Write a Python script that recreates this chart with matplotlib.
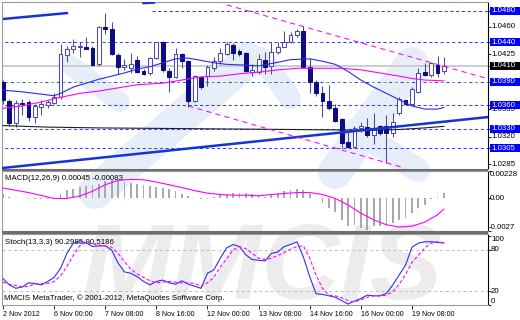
import numpy as np
import matplotlib
matplotlib.use("Agg")
import matplotlib.pyplot as plt
from matplotlib.patches import Rectangle
from matplotlib.transforms import blended_transform_factory

plt.rcParams['font.family'] = ['Liberation Sans', 'DejaVu Sans']
FS = 5.7

# H4 bars, 2 Nov 2012 .. 20 Nov 2012
opens = [1.0389, 1.0365, 1.0337, 1.0363, 1.0364, 1.0345, 1.0358, 1.0360, 1.0363, 1.0370,
         1.0424, 1.0432, 1.0434, 1.0434, 1.0433, 1.0412, 1.0459, 1.0457, 1.0424, 1.0408,
         1.0407, 1.0418, 1.0403, 1.0401, 1.0420, 1.0440, 1.0404, 1.0396, 1.0425, 1.0416,
         1.0365, 1.0396, 1.0397, 1.0407, 1.0416, 1.0425, 1.0437, 1.0429, 1.0426, 1.0402,
         1.0402, 1.0418, 1.0410, 1.0428, 1.0434, 1.0441, 1.0449, 1.0454, 1.0409, 1.0390,
         1.0376, 1.0365, 1.0356, 1.0342, 1.0313, 1.0307, 1.0331, 1.0332, 1.0322, 1.0333,
         1.0333, 1.0324, 1.0350, 1.0366, 1.0361, 1.0377, 1.0402, 1.0398, 1.0411, 1.0404]
highs = [1.0392, 1.0368, 1.0367, 1.0368, 1.0367, 1.0361, 1.0367, 1.0366, 1.0376, 1.0438,
         1.0435, 1.0444, 1.0440, 1.0447, 1.0436, 1.0461, 1.0477, 1.0466, 1.0426, 1.0419,
         1.0427, 1.0423, 1.0406, 1.0421, 1.0441, 1.0442, 1.0407, 1.0433, 1.0426, 1.0418,
         1.0398, 1.0397, 1.0411, 1.0421, 1.0433, 1.0440, 1.0439, 1.0432, 1.0428, 1.0412,
         1.0425, 1.0428, 1.0440, 1.0440, 1.0455, 1.0453, 1.0457, 1.0461, 1.0420, 1.0392,
         1.0385, 1.0386, 1.0362, 1.0344, 1.0326, 1.0333, 1.0339, 1.0344, 1.0350, 1.0335,
         1.0347, 1.0350, 1.0371, 1.0367, 1.0383, 1.0407, 1.0414, 1.0415, 1.0423, 1.0422]
lows = [1.0362, 1.0333, 1.0332, 1.0347, 1.0340, 1.0337, 1.0348, 1.0356, 1.0362, 1.0368,
        1.0415, 1.0427, 1.0421, 1.0431, 1.0410, 1.0410, 1.0451, 1.0424, 1.0400, 1.0405,
        1.0401, 1.0401, 1.0398, 1.0399, 1.0419, 1.0402, 1.0377, 1.0394, 1.0407, 1.0358,
        1.0364, 1.0380, 1.0384, 1.0404, 1.0413, 1.0424, 1.0418, 1.0423, 1.0402, 1.0397,
        1.0400, 1.0400, 1.0400, 1.0425, 1.0434, 1.0439, 1.0447, 1.0407, 1.0375, 1.0372,
        1.0345, 1.0354, 1.0339, 1.0305, 1.0305, 1.0305, 1.0326, 1.0319, 1.0311, 1.0322,
        1.0286, 1.0319, 1.0347, 1.0360, 1.0359, 1.0375, 1.0397, 1.0396, 1.0396, 1.0400]
closes = [1.0367, 1.0337, 1.0363, 1.0361, 1.0345, 1.0359, 1.0362, 1.0364, 1.0370, 1.0425,
          1.0432, 1.0435, 1.0436, 1.0432, 1.0411, 1.0459, 1.0457, 1.0425, 1.0409, 1.0411,
          1.0413, 1.0402, 1.0400, 1.0420, 1.0440, 1.0405, 1.0396, 1.0425, 1.0416, 1.0365,
          1.0397, 1.0383, 1.0408, 1.0416, 1.0426, 1.0438, 1.0426, 1.0425, 1.0404, 1.0405,
          1.0419, 1.0409, 1.0428, 1.0434, 1.0441, 1.0449, 1.0455, 1.0409, 1.0390, 1.0376,
          1.0365, 1.0356, 1.0340, 1.0312, 1.0307, 1.0331, 1.0333, 1.0322, 1.0330, 1.0325,
          1.0324, 1.0338, 1.0368, 1.0361, 1.0380, 1.0401, 1.0398, 1.0414, 1.0401, 1.0410]

date_ticks = [0, 8, 16, 24, 32, 40, 48, 56, 64]
date_labels = ["2 Nov 2012", "6 Nov 00:00", "7 Nov 08:00", "8 Nov 16:00", "12 Nov 00:00",
               "13 Nov 08:00", "14 Nov 16:00", "16 Nov 00:00", "19 Nov 08:00"]

# moving averages (bar index, value)
ma_blue_bar = [0, 3, 6, 8, 9, 11, 13, 15, 17, 19, 21, 23, 25, 27, 29, 31, 33, 35, 38, 40,
               42, 45, 48, 50, 52, 54, 56, 58, 60, 62, 64, 66, 68, 69]
ma_blue_val = [1.0379, 1.0377, 1.0374, 1.0372, 1.0375, 1.0383, 1.0388, 1.0393, 1.0397, 1.0401,
               1.0406, 1.0409, 1.0414, 1.0419, 1.0420, 1.0417, 1.0414, 1.0412, 1.0411, 1.0410,
               1.0413, 1.0418, 1.0419, 1.0416, 1.0412, 1.0403, 1.0392, 1.0383, 1.0375, 1.0367,
               1.0359, 1.0355, 1.0355, 1.0357]
ma_pink_bar = [0, 3, 6, 9, 12, 15, 18, 21, 25, 28, 31, 34, 37, 40, 43, 46, 50, 53, 56, 59,
               62, 64, 66, 69]
ma_pink_val = [1.0356, 1.0359, 1.0364, 1.0370, 1.0375, 1.0378, 1.0382, 1.0386, 1.0388, 1.0392,
               1.0396, 1.0397, 1.0400, 1.0402, 1.0405, 1.0407, 1.0407, 1.0407, 1.0405, 1.0401,
               1.0397, 1.0394, 1.0392, 1.0391]
ma_black_bar = [0, 7, 15, 30, 45, 58, 62, 66, 69]
ma_black_val = [1.0334, 1.0332, 1.0331, 1.0330, 1.0329, 1.0328, 1.0329, 1.0331, 1.0333]

level_lines = [1.0480, 1.0440, 1.0390, 1.0360, 1.0330, 1.0305]
level_start = [23.3, -1, -1, -1, -1, -1]
current_price = 1.0410
plain_labels = [1.0460, 1.0425, 1.0355, 1.0320, 1.0285]

# drawn objects: (bar0, price0, bar1, price1)
trend_lines = [(-0.2, 1.02798, 76.0, 1.03449), (0, 1.04698, 10.2, 1.04775),
               (21.8, 1.04900, 23.8, 1.04908)]
channel_lines = [(35.05, 1.04877, 75.8, 1.03939), (29.0, 1.03589, 62.9, 1.02798)]

macd_hist = [0.00040, 0.00015, 0.00004, 0.00003, -0.00003, -0.00003, -0.00003, -0.00003, 0.00003, 0.00040,
             0.00068, 0.00082, 0.00095, 0.00103, 0.00109, 0.00122, 0.00141, 0.00150, 0.00141, 0.00136,
             0.00130, 0.00122, 0.00109, 0.00103, 0.00095, 0.00087, 0.00076, 0.00060, 0.00041, 0.00022,
             0.00008, -0.00002, -0.00002, 0.00013, 0.00033, 0.00041, 0.00049, 0.00049, 0.00049, 0.00041,
             0.00025, 0.00014, 0.00027, 0.00049, 0.00060, 0.00068, 0.00082, 0.00073, 0.00033, 0.00002,
             -0.00041, -0.00082, -0.00109, -0.00177, -0.00231, -0.00218, -0.00245, -0.00258, -0.00231, -0.00231,
             -0.00231, -0.00204, -0.00177, -0.00163, -0.00122, -0.00082, -0.00054, -0.00003, 0.00014, 0.00045]
macd_sig_bar = [0, 4, 8, 10, 12, 14, 16, 18, 20, 22, 24, 26, 28, 30, 32, 34, 36, 38, 40, 42,
                44, 46, 48, 50, 52, 54, 56, 58, 60, 62, 64, 66, 68, 69]
macd_sig_val = [0.00087, 0.00049, 0.0, 0.0, 0.0002, 0.0006, 0.00114, 0.0015, 0.00158, 0.00155,
                0.00136, 0.00114, 0.0009, 0.00065, 0.00044, 0.00033, 0.00027, 0.00027, 0.00022, 0.00033,
                0.00041, 0.00049, 0.00049, 0.00033, 0.0, -0.00054, -0.00122, -0.00177, -0.00218, -0.00237,
                -0.0023, -0.00196, -0.00136, -0.00088]

stoch_k = [38, 29, 24, 26, 32, 31, 29, 34, 40, 53,
           75, 90, 92, 91, 85, 86, 86, 80, 61, 48,
           46, 41, 34, 29, 34, 36, 32, 30, 35, 30,
           27, 24, 46, 51, 68, 83, 88, 85, 73, 66,
           65, 64, 75, 77, 85, 88, 92, 70, 41, 16,
           15, 13, 11, 6, 1, 5.5, 9, 14, 13, 13,
           16.5, 29, 43.5, 58, 84, 90, 92, 92, 91, 90.3]
stoch_d = [33, 30, 28, 26, 27, 30, 31, 31, 34, 42,
           56, 72, 86, 91, 89, 87, 86, 84, 75, 63,
           52, 45, 40, 35, 32, 33, 34, 33, 32, 32,
           31, 27, 32, 40, 55, 67, 80, 85, 82, 75,
           68, 66, 68, 72, 76, 81, 85, 86, 68, 43,
           24, 14, 13, 10, 6, 4, 7, 11, 13, 13,
           14, 19, 30, 44, 62, 72, 83, 90, 92, 90.5]

W, H = 520, 320
fig = plt.figure(figsize=(W / 100, H / 100), dpi=100, facecolor='white')

# watermark (logo stripes + letters) behind transparent panels
bg = fig.add_axes([0, 0, 1, 1])
bg.set_xlim(0, W)
bg.set_ylim(H, 0)
bg.axis('off')
bg.set_zorder(-5)
logo_bands = [((70, 65), (120, 102), 20), ((95, 192), (248, 60), 34), ((262, 58), (290, 98), 22),
              ((335, 172), (412, 64), 34), ((355, 130), (418, 170), 24)]
for (xa, ya), (xb, yb), w in logo_bands:
    bg.plot([xa, xb], [ya, yb], color='#e6eef9', lw=w * 0.72, solid_capstyle='round')
bg.text(262, 299, 'MMCIS', fontsize=78, fontweight='bold', style='italic', color='#ececec',
        ha='center', va='baseline', family='Liberation Sans')


def panel(x0, y0, x1, y1):
    a = fig.add_axes([x0 / W, 1 - y1 / H, (x1 - x0) / W, (y1 - y0) / H])
    a.set_facecolor('none')
    for s in ['left', 'top', 'bottom']:
        a.spines[s].set_color('#9a9a9a')
        a.spines[s].set_linewidth(0.8)
    a.spines['right'].set_color('black')
    a.spines['right'].set_linewidth(0.8)
    a.set_xlim(-0.156, 75.9)
    a.yaxis.tick_right()
    a.tick_params(axis='y', length=2.5, width=0.6, labelright=False, direction='out')
    a.set_xticks([])
    return a


x = np.arange(len(opens))
o, h, l, c = map(np.array, (opens, highs, lows, closes))

# ---------------- main price panel ----------------
ax = panel(2, 2, 488, 168.5)
ax.set_ylim(1.027927, 1.049147)

ax.axhline(current_price, color='#c8c8c8', lw=1.3, zorder=1)
for lv, st in zip(level_lines, level_start):
    if lv == 1.0390:
        ax.plot([st, 77], [lv, lv], color='#3c3cff', lw=0.75, linestyle=(0, (3, 8)), zorder=2)
        ax.plot([st, 77], [lv, lv], color='#6aae6a', lw=0.75, linestyle=(5.5, (3, 8)), zorder=2)
    else:
        ax.plot([st, 77], [lv, lv], color='#3c3cff', lw=0.75, linestyle=(0, (3, 2.5)), zorder=2)

up = c >= o
body_lo = np.minimum(o, c)
body_h = np.maximum(np.abs(c - o), 0.00005)
ax.vlines(x, l, h, color='#4a4a95', lw=0.75, zorder=4)
ax.bar(x[up], body_h[up], 0.6, body_lo[up], color='white', edgecolor='#4b4bb0', lw=0.75, zorder=5)
ax.bar(x[~up], body_h[~up], 0.6, body_lo[~up], color='#0c0c84', edgecolor='#0c0c84', lw=0.75, zorder=5)

ax.plot(ma_black_bar, ma_black_val, color='#202020', lw=0.8, zorder=6)
ax.plot(ma_pink_bar, ma_pink_val, color='#ff00ff', lw=0.8, zorder=6)
ax.plot(ma_blue_bar, ma_blue_val, color='#2b2bf0', lw=0.8, zorder=6)
for b0, p0, b1, p1 in trend_lines:
    ax.plot([b0, b1], [p0, p1], color='#1533d6', lw=1.8, solid_capstyle='butt', zorder=7)
for b0, p0, b1, p1 in channel_lines:
    ax.plot([b0, b1], [p0, p1], color='#ff00ff', lw=0.75, linestyle=(0, (5, 4)), zorder=7)

ax.set_yticks(level_lines + [current_price] + plain_labels)
tr = blended_transform_factory(ax.transAxes, ax.transData)
bx, bw, bh = 488 / 486, 31 / 486, 8 * 0.00012745
for lv in plain_labels:
    ax.text(489 / 486, lv, f'{lv:.4f}', transform=tr, fontsize=FS, va='center', ha='left',
            color='black', zorder=9)
for lv, fc in [(v, '#0000ff') for v in level_lines] + [(current_price, 'black')]:
    ax.add_patch(Rectangle((bx, lv - bh / 2), bw, bh, transform=tr, fc=fc, ec='none',
                           clip_on=False, zorder=10))
    ax.text(489.5 / 486, lv, f'{lv:.4f}', transform=tr, fontsize=FS, va='center', ha='left',
            color='white', zorder=11)

# ---------------- MACD panel ----------------
ax2 = panel(2, 171, 488, 231)
ax2.set_ylim(-0.0027, 0.00228)
ax2.bar(x, macd_hist, width=0.28, color='#a9a9a9', zorder=3)
ax2.plot(macd_sig_bar, macd_sig_val, color='#ff00ff', lw=0.8, zorder=4)
ax2.set_yticks([0.00228, 0.0, -0.0027])
tr2 = blended_transform_factory(ax2.transAxes, ax2.transData)
ax2.text(1.004, 0.00228, '0.00228', transform=tr2, fontsize=FS, va='top', ha='left')
ax2.text(1.004, 0.0, '0.00', transform=tr2, fontsize=FS, va='center', ha='left')
ax2.text(1.002, -0.0027, '-0.0027', transform=tr2, fontsize=FS, va='bottom', ha='left')
ax2.text(0.006, 0.88, 'MACD(12,26,9) 0.00045 -0.00083', transform=ax2.transAxes, fontsize=FS,
         va='center', ha='left')

# ---------------- Stochastic panel ----------------
ax3 = panel(2, 233.5, 488, 305)
ax3.set_ylim(-0.4, 104.1)
for lv in (80, 20):
    ax3.axhline(lv, color='#bdbdbd', lw=0.7, linestyle=(0, (3, 3)), zorder=2)
ax3.plot(x, stoch_k, color='#3030f0', lw=0.8, zorder=4)
ax3.plot(x, stoch_d, color='#ff00ff', lw=0.8, linestyle=(0, (3, 2)), zorder=4)
ax3.set_yticks([100, 80, 20, 0])
tr3 = blended_transform_factory(ax3.transAxes, ax3.transData)
ax3.text(1.006, 100, '100', transform=tr3, fontsize=FS, va='top', ha='left')
ax3.text(1.006, 80, '80', transform=tr3, fontsize=FS, va='center', ha='left')
ax3.text(1.006, 20, '20', transform=tr3, fontsize=FS, va='center', ha='left')
ax3.text(1.006, 0, '0', transform=tr3, fontsize=FS, va='bottom', ha='left')
ax3.text(0.006, 0.87, 'Stoch(13,3,3) 90.2985 90.5186', transform=ax3.transAxes, fontsize=FS,
         va='center', ha='left')
ax3.text(0.004, 0.09, 'MMCIS MetaTrader, \u00a9 2001-2012, MetaQuotes Software Corp.',
         transform=ax3.transAxes, fontsize=FS, va='center', ha='left')
ax3.set_xticks(date_ticks)
ax3.set_xticklabels(date_labels, fontsize=5.1, ha='left')
ax3.tick_params(axis='x', length=3, width=0.6, pad=1.5, direction='out')

# panel separators
for y0, y1 in [(168.5, 171), (231, 233.5)]:
    fig.add_artist(Rectangle((2 / W, 1 - y1 / H), 486 / W, (y1 - y0) / H, transform=fig.transFigure,
                             fc='#6e6e6e', ec='none', zorder=10))

fig.savefig('out.png', dpi=100)
